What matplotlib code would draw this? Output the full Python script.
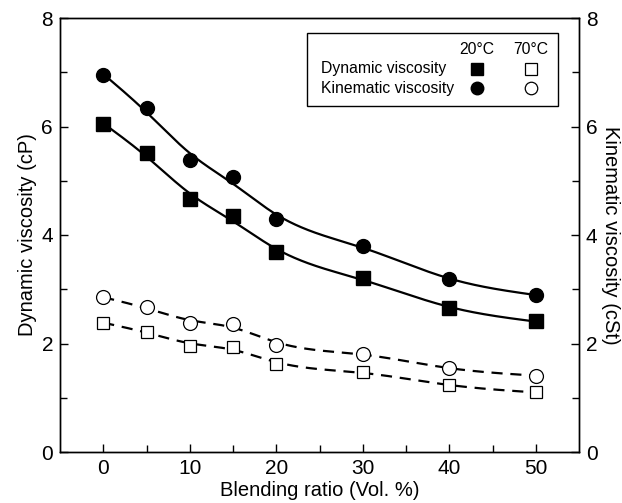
import matplotlib
matplotlib.use("Agg")
import matplotlib.pyplot as plt
import numpy as np

plt.rcParams["font.family"] = ["Liberation Sans", "DejaVu Sans"]

blend = [0, 5, 10, 15, 20, 30, 40, 50]
dyn_20 = [6.04, 5.52, 4.66, 4.35, 3.68, 3.20, 2.66, 2.41]
kin_20 = [6.95, 6.34, 5.39, 5.06, 4.30, 3.80, 3.18, 2.90]
dyn_70 = [2.38, 2.22, 1.96, 1.94, 1.62, 1.47, 1.23, 1.10]
kin_70 = [2.85, 2.67, 2.38, 2.36, 1.98, 1.81, 1.54, 1.41]


def smooth(x, y, lam=5.0, step=0.1):
    # smoothing-spline style fitted curve (Whittaker smoother on a fine grid)
    x = np.asarray(x, float)
    y = np.asarray(y, float)
    gx = np.arange(x[0], x[-1] + step / 2, step)
    n = len(gx)
    idx = np.rint((x - x[0]) / step).astype(int)
    W = np.zeros((n, n))
    b = np.zeros(n)
    W[idx, idx] = 1.0
    b[idx] = y
    D = np.diff(np.eye(n), 2, axis=0)
    A = W + lam / step ** 3 * D.T @ D
    return gx, np.linalg.solve(A, b)


fig = plt.figure(figsize=(6.22, 5.03), dpi=100)
ax = fig.add_axes([60 / 622, 1 - 452 / 503, 519 / 622, 434 / 503])

for ys in (kin_20, dyn_20):
    sx, sy = smooth(blend, ys, lam=14.0)
    ax.plot(sx, sy, color="black", lw=1.6, zorder=2)
for ys in (kin_70, dyn_70):
    sx, sy = smooth(blend, ys, lam=8.0)
    ax.plot(sx, sy, color="black", lw=1.6, dashes=(5, 3.5), zorder=2)

ax.plot(blend, dyn_20, "s", color="black", ms=9.5, zorder=3, ls="none")
ax.plot(blend, kin_20, "o", color="black", ms=10, zorder=3, ls="none")
ax.plot(blend, dyn_70, "s", mfc="white", mec="black", mew=0.9, ms=9, zorder=3, ls="none")
ax.plot(blend, kin_70, "o", mfc="white", mec="black", mew=0.9, ms=10, zorder=3, ls="none")

ax.set_xlim(-5, 55)
ax.set_ylim(0, 8)
ax.set_xticks([0, 10, 20, 30, 40, 50])
ax.set_xticks([5, 15, 25, 35, 45], minor=True)
ax.set_yticks([0, 2, 4, 6, 8])
ax.set_yticks([1, 3, 5, 7], minor=True)
ax.tick_params(which="both", direction="in", labelsize=15, top=False, right=False)
ax.tick_params(which="major", length=6, width=1, pad=5)
ax.tick_params(which="minor", length=5, width=1)
ax.set_xlabel("Blending ratio (Vol. %)", fontsize=14.5, labelpad=2)
ax.set_ylabel("Dynamic viscosity (cP)", fontsize=14.5, labelpad=3)

ax2 = ax.twinx()
ax2.set_ylim(0, 8)
ax2.set_yticks([0, 2, 4, 6, 8])
ax2.set_yticks([1, 3, 5, 7], minor=True)
ax2.tick_params(which="both", direction="in", labelsize=15)
ax2.tick_params(which="major", length=6, width=1, pad=5)
ax2.tick_params(which="minor", length=5, width=1)
ax2.set_ylabel("Kinematic viscosity (cSt)", fontsize=14.5, rotation=270, labelpad=16)

for a in (ax, ax2):
    for s in a.spines.values():
        s.set_linewidth(1)

# legend box drawn by hand
fig.patches.append(plt.Rectangle((307 / 622, 1 - 106 / 503), 251 / 622, 73 / 503,
                                 transform=fig.transFigure, fill=False, ec="black", lw=1))
fig.text(477 / 622, 1 - 50 / 503, "20°C", ha="center", va="center", fontsize=11.3)
fig.text(531 / 622, 1 - 50 / 503, "70°C", ha="center", va="center", fontsize=11.3)
fig.text(321 / 622, 1 - 69 / 503, "Dynamic viscosity", ha="left", va="center", fontsize=11.3)
fig.text(321 / 622, 1 - 88 / 503, "Kinematic viscosity", ha="left", va="center", fontsize=11.3)
lx = [477 / 622, 531 / 622]
fig.lines.append(plt.Line2D([lx[0]], [1 - 69 / 503], marker="s", color="black", ms=8, transform=fig.transFigure))
fig.lines.append(plt.Line2D([lx[1]], [1 - 69 / 503], marker="s", mfc="white", mec="black", mew=0.9, ms=8, transform=fig.transFigure))
fig.lines.append(plt.Line2D([lx[0]], [1 - 88 / 503], marker="o", color="black", ms=9, transform=fig.transFigure))
fig.lines.append(plt.Line2D([lx[1]], [1 - 88 / 503], marker="o", mfc="white", mec="black", mew=0.9, ms=9, transform=fig.transFigure))

fig.savefig("out.png", dpi=100)
